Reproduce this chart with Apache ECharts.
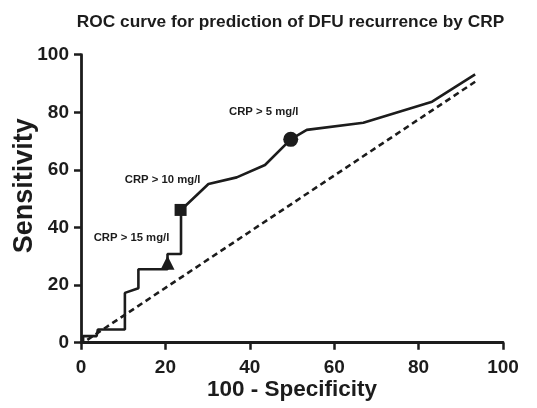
<!DOCTYPE html>
<html>
<head>
<meta charset="utf-8">
<script src="https://cdn.jsdelivr.net/npm/echarts@6/dist/echarts.min.js"></script>
<style>
html,body{margin:0;padding:0;background:#fff;}
#chart{width:537px;height:408px;}
</style>
</head>
<body>
<div id="chart"></div>
<script>
// ROC curve (100 - specificity, sensitivity)
const rocFPR  = [0.5, 0.5, 3.7, 4.0, 10.4, 10.4, 13.6, 13.6, 20.5, 20.5, 23.7, 23.7, 30.2, 36.9, 43.6, 49.7, 53.5, 66.9, 83.2, 93.4];
const rocSens = [0.0, 2.3, 2.3, 4.6, 4.6, 17.3, 18.9, 25.5, 25.5, 30.8, 30.8, 46.1, 55.1, 57.4, 61.7, 70.6, 73.9, 76.4, 83.7, 93.2];
// reference (chance) line
const refFPR  = [1.5, 93.4];
const refSens = [1.0, 90.6];
// cut-off points
const cutoffLabels = ['CRP > 15 mg/l', 'CRP > 10 mg/l', 'CRP > 5 mg/l'];
const cutoffFPR    = [20.5, 23.6, 49.7];
const cutoffSens   = [27.8, 46.1, 70.6];
// axis ticks
const xTicks = [0, 20, 40, 60, 80, 100];
const yTicks = [0, 20, 40, 60, 80, 100];

const ink = '#1c1c1c';
const font = '"Liberation Sans", Arial, sans-serif';

const zip = (a, b) => a.map((v, i) => [v, b[i]]);
const symbols = ['triangle', 'rect', 'circle'];
const symSizes = [[14, 14], 12, 15];
const labelOffsets = [[-36, -25], [-18, -30], [-27, -27]];

const cutoffData = cutoffFPR.map((x, i) => ({
  value: [x, cutoffSens[i]],
  name: cutoffLabels[i],
  symbol: symbols[i],
  symbolSize: symSizes[i],
  label: { offset: labelOffsets[i] }
}));

const chart = echarts.init(document.getElementById('chart'));
const axisCommon = {
  type: 'value', min: 0, max: 100, interval: 20,
  axisLine: { show: true, lineStyle: { color: ink, width: 2.8 } },
  axisTick: { show: true, length: 7, lineStyle: { color: ink, width: 2.5 } },
  splitLine: { show: false },
  axisLabel: { color: ink, fontFamily: font, fontWeight: 'bold', fontSize: 19 }
};
chart.setOption({
  animation: false,
  backgroundColor: '#fff',
  title: {
    text: 'ROC curve for prediction of DFU recurrence by CRP',
    left: 285.5, top: 9, textAlign: 'center',
    textStyle: { color: ink, fontFamily: font, fontWeight: 'bold', fontSize: 17.3 }
  },
  grid: { left: 81, right: 34, top: 54.7, bottom: 65.3, containLabel: false, outerBoundsMode: 'none' },
  xAxis: Object.assign({}, axisCommon, {
    axisLabel: Object.assign({}, axisCommon.axisLabel, { margin: 16, customValues: xTicks }),
    name: '100 - Specificity', nameLocation: 'middle', nameGap: 36, nameMoveOverlap: false,
    nameTextStyle: { color: ink, fontFamily: font, fontWeight: 'bold', fontSize: 22.5 }
  }),
  yAxis: Object.assign({}, axisCommon, {
    axisLabel: Object.assign({}, axisCommon.axisLabel, { margin: 12, customValues: yTicks }),
    name: 'Sensitivity', nameLocation: 'middle', nameGap: 43, nameMoveOverlap: false,
    nameTextStyle: { color: ink, fontFamily: font, fontWeight: 'bold', fontSize: 27, padding: [0, 0, 0, 26] }
  }),
  series: [
    {
      name: 'Reference', type: 'line', data: zip(refFPR, refSens), showSymbol: false,
      lineStyle: { color: ink, width: 2.6, type: [6, 4] }, z: 2
    },
    {
      name: 'ROC', type: 'line', data: zip(rocFPR, rocSens), showSymbol: false,
      lineStyle: { color: ink, width: 2.6 }, z: 3
    },
    {
      name: 'Cut-offs', type: 'scatter', data: cutoffData, z: 4,
      itemStyle: { color: ink, opacity: 1 },
      label: {
        show: true, position: 'inside', formatter: '{b}',
        color: ink, fontFamily: font, fontWeight: 'bold', fontSize: 11.3
      }
    }
  ]
});
</script>
</body>
</html>
